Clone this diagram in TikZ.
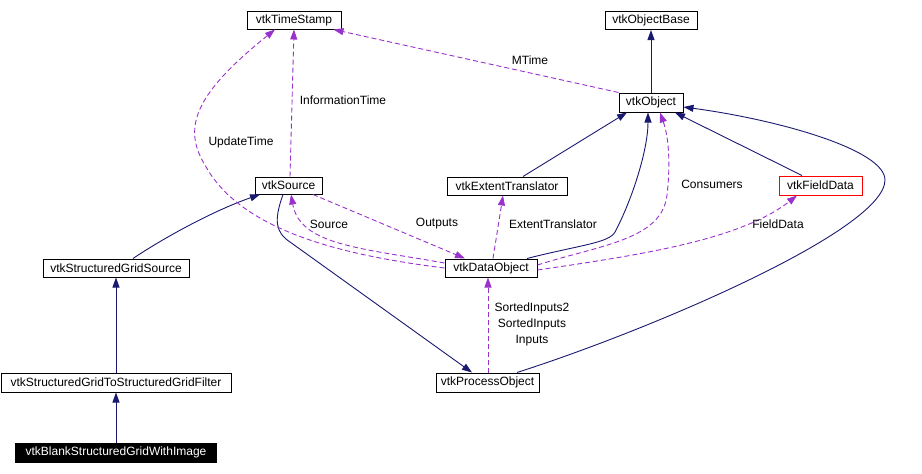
\documentclass[tikz,border=0pt]{standalone}
\usepackage{fontspec}
\setmainfont{Liberation Sans}
\usetikzlibrary{arrows.meta}
\definecolor{inhblue}{RGB}{25,25,112}
\definecolor{usepurple}{RGB}{153,50,204}

\begin{document}
\begin{tikzpicture}[x=1pt,y=-1pt,
  cls/.style={draw=black,line width=1pt,minimum height=18pt,inner sep=0pt,font=\fontsize{12}{14}\selectfont},
  inh/.style={draw=inhblue,line width=0.9pt,-{Triangle[length=10pt,width=7pt]}},
  use/.style={draw=usepurple,line width=0.9pt,dash pattern=on 5pt off 3pt,-{Triangle[length=10pt,width=7pt]}},
  lbl/.style={font=\fontsize{12}{16}\selectfont,align=center,inner sep=0pt}]
  \useasboundingbox (0,0) rectangle (922,474);

  % Classes
  \node[cls,minimum width=94pt] (ts) at (294,20) {vtkTimeStamp};
  \node[cls,minimum width=92pt] (objbase) at (651,20.5) {vtkObjectBase};
  \node[cls,minimum width=64pt,minimum height=19pt] (obj) at (651,102.5) {vtkObject};
  \node[cls,draw=red,minimum width=83pt,minimum height=19pt] (fd) at (820.5,185.5) {vtkFieldData};
  \node[cls,minimum width=67pt,minimum height=17pt] (src) at (288.5,185.5) {vtkSource};
  \node[cls,minimum width=120pt] (et) at (507,186) {vtkExtentTranslator};
  \node[cls,minimum width=92pt] (dobj) at (491,268) {vtkDataObject};
  \node[cls,minimum width=146pt] (sgs) at (116,268) {vtkStructuredGridSource};
  \node[cls,minimum width=230pt,minimum height=19pt] (filt) at (116,382.5) {vtkStructuredGridToStructuredGridFilter};
  \node[cls,fill=black,text=white,minimum width=201pt,minimum height=19pt] (blank) at (116,452.5) {vtkBlankStructuredGridWithImage};
  \node[cls,minimum width=103pt,minimum height=19pt] (po) at (487.5,382.5) {vtkProcessObject};

  % Inheritance
  \draw[inh] (obj) -- (objbase);
  \draw[inh] ([xshift=16pt]et.north) -- ([xshift=-24pt]obj.south);
  \draw[inh] ([xshift=-18.5pt]fd.north) -- ([xshift=24pt]obj.south);
  \draw[inh] ([xshift=36pt]dobj.north) .. controls (580,245) and (609,243) .. (615,232) .. controls (632,200) and (648,150) .. ([xshift=-3pt]obj.south);
  \draw[inh] ([xshift=29.5pt]po.north) .. controls (650,330) and (885,230) .. (885,180) .. controls (885,150) and (780,120) .. ([yshift=-4.5pt]obj.east);
  \draw[inh] ([xshift=-5.5pt]src.south) .. controls (274,220) and (275,232) .. (290,242) -- ([xshift=-15.5pt]po.north);
  \draw[inh] ([xshift=17pt]sgs.north) .. controls (165,237) and (215,210) .. ([xshift=-28.5pt]src.south);
  \draw[inh] (filt) -- (sgs);
  \draw[inh] (blank) -- (filt);

  % Usage
  \draw[use] (obj.north west) -- ([xshift=-8pt]ts.south east);
  \draw[use] ([xshift=1.5pt]src.north) -- (ts.south);
  \draw[use] (dobj.west) .. controls (340,255) and (240,230) .. (205,165) .. controls (180,125) and (200,90) .. ([xshift=-19pt]ts.south);
  \draw[use] ([yshift=5pt]dobj.west) .. controls (360,248) and (300,245) .. ([xshift=2.5pt]src.south);
  \draw[use] ([xshift=24.5pt]src.south) -- ([xshift=-26pt]dobj.north);
  \draw[use] ([xshift=2pt]dobj.north) -- ([xshift=-4pt]et.south);
  \draw[use] ([yshift=3pt]dobj.east) .. controls (600,245) and (662,240) .. (667,195) .. controls (671,160) and (668,135) .. ([xshift=9pt]obj.south);
  \draw[use] ([yshift=-2pt]dobj.east) .. controls (640,255) and (740,240) .. ([xshift=-23.5pt]fd.south);
  \draw[use] ([xshift=0.5pt]po.north) -- ([xshift=-3pt]dobj.south);

  % Labels
  \node[lbl] (lmtime) at (530,60) {MTime};
  \node[lbl] (linfo) at (343,100) {InformationTime};
  \node[lbl] (lupd) at (241,142) {UpdateTime};
  \node[lbl] (lsrc) at (329,224) {Source};
  \node[lbl] (lout) at (437,224) {Outputs};
  \node[lbl] (lext) at (553,224) {ExtentTranslator};
  \node[lbl] (lcons) at (712,184) {Consumers};
  \node[lbl] (lfd) at (778,224) {FieldData};
  \node[lbl] (linp) at (532,324) {SortedInputs2\\SortedInputs\\Inputs};
\end{tikzpicture}
\end{document}
